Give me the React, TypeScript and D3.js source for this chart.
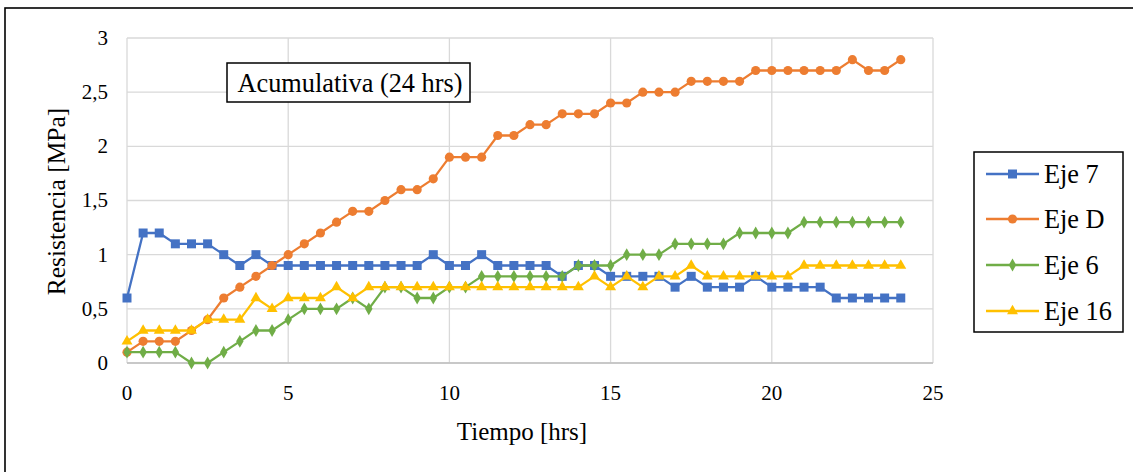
import React from "react";
import * as d3 from "d3";

const times: number[] = d3.range(0, 24.01, 0.5);

const eje7: number[] = [
  0.6, 1.2, 1.2, 1.1, 1.1, 1.1, 1.0, 0.9, 1.0, 0.9,
  0.9, 0.9, 0.9, 0.9, 0.9, 0.9, 0.9, 0.9, 0.9, 1.0,
  0.9, 0.9, 1.0, 0.9, 0.9, 0.9, 0.9, 0.8, 0.9, 0.9,
  0.8, 0.8, 0.8, 0.8, 0.7, 0.8, 0.7, 0.7, 0.7, 0.8,
  0.7, 0.7, 0.7, 0.7, 0.6, 0.6, 0.6, 0.6, 0.6,
];
const ejeD: number[] = [
  0.1, 0.2, 0.2, 0.2, 0.3, 0.4, 0.6, 0.7, 0.8, 0.9,
  1.0, 1.1, 1.2, 1.3, 1.4, 1.4, 1.5, 1.6, 1.6, 1.7,
  1.9, 1.9, 1.9, 2.1, 2.1, 2.2, 2.2, 2.3, 2.3, 2.3,
  2.4, 2.4, 2.5, 2.5, 2.5, 2.6, 2.6, 2.6, 2.6, 2.7,
  2.7, 2.7, 2.7, 2.7, 2.7, 2.8, 2.7, 2.7, 2.8,
];
const eje6: number[] = [
  0.1, 0.1, 0.1, 0.1, 0.0, 0.0, 0.1, 0.2, 0.3, 0.3,
  0.4, 0.5, 0.5, 0.5, 0.6, 0.5, 0.7, 0.7, 0.6, 0.6,
  0.7, 0.7, 0.8, 0.8, 0.8, 0.8, 0.8, 0.8, 0.9, 0.9,
  0.9, 1.0, 1.0, 1.0, 1.1, 1.1, 1.1, 1.1, 1.2, 1.2,
  1.2, 1.2, 1.3, 1.3, 1.3, 1.3, 1.3, 1.3, 1.3,
];
const eje16: number[] = [
  0.2, 0.3, 0.3, 0.3, 0.3, 0.4, 0.4, 0.4, 0.6, 0.5,
  0.6, 0.6, 0.6, 0.7, 0.6, 0.7, 0.7, 0.7, 0.7, 0.7,
  0.7, 0.7, 0.7, 0.7, 0.7, 0.7, 0.7, 0.7, 0.7, 0.8,
  0.7, 0.8, 0.7, 0.8, 0.8, 0.9, 0.8, 0.8, 0.8, 0.8,
  0.8, 0.8, 0.9, 0.9, 0.9, 0.9, 0.9, 0.9, 0.9,
];

const seriesNames: string[] = ["Eje 7", "Eje D", "Eje 6", "Eje 16"];
const seriesValues: number[][] = [eje7, ejeD, eje6, eje16];
const seriesColors: string[] = ["#4472C4", "#ED7D31", "#70AD47", "#FFC000"];
const seriesSymbols = [d3.symbolSquare, d3.symbolCircle, d3.symbolDiamond, d3.symbolTriangle];
const symbolSizes: number[] = [81, 66, 48, 52];

const xTicks: number[] = [0, 5, 10, 15, 20, 25];
const yTicks: number[] = [0, 0.5, 1, 1.5, 2, 2.5, 3];
const fmt = (v: number) => String(v).replace(".", ",");

const FONT = "Liberation Serif, Times New Roman, DejaVu Serif, serif";
const ts = { fontFamily: FONT };

export default function App() {
  const W = 1133;
  const H = 472;
  const left = 127;
  const right = 933;
  const top = 38;
  const bottom = 363;
  const x = d3.scaleLinear().domain([0, 25]).range([left, right]);
  const y = d3.scaleLinear().domain([0, 3]).range([bottom, top]);
  const line = d3
    .line<number>()
    .x((_, i) => x(times[i]))
    .y((d) => y(d));

  const legendY = [174, 219, 265, 311];

  return (
    <svg
      width={W}
      height={H}
      style={{ position: "absolute", left: 0, top: 0, background: "#fff", fontFamily: FONT }}
    >
      <rect x={0} y={0} width={W} height={H} fill="#fff" />
      {/* chart border */}
      <rect x={5} y={8} width={W + 20} height={H + 20} fill="none" stroke="#000" strokeWidth={1.6} />

      {/* gridlines */}
      {yTicks.map((t) => (
        <line key={"gy" + t} x1={left} x2={right} y1={y(t)} y2={y(t)} stroke="#D9D9D9" strokeWidth={1.3} />
      ))}
      {xTicks.map((t) => (
        <line key={"gx" + t} x1={x(t)} x2={x(t)} y1={top} y2={bottom} stroke="#D9D9D9" strokeWidth={1.3} />
      ))}
      <line x1={left} x2={right} y1={bottom} y2={bottom} stroke="#BFBFBF" strokeWidth={1.5} />

      {/* tick labels */}
      {yTicks.map((t) => (
        <text key={"ty" + t} x={108} y={y(t)} dy="0.33em" textAnchor="end" fontSize={21} fill="#000" style={ts}>
          {fmt(t)}
        </text>
      ))}
      {xTicks.map((t) => (
        <text key={"tx" + t} x={x(t)} y={393.5} dy="0.33em" textAnchor="middle" fontSize={21} fill="#000" style={ts}>
          {fmt(t)}
        </text>
      ))}

      {/* axis titles */}
      <text x={522} y={431.5} dy="0.35em" textAnchor="middle" fontSize={25} fill="#000" style={ts}>
        Tiempo [hrs]
      </text>
      <text
        transform={`translate(56.5, 201.5) rotate(-90)`}
        dy="0.35em"
        textAnchor="middle"
        fontSize={25.5}
        fill="#000"
        style={ts}
      >
        Resistencia [MPa]
      </text>

      {/* series */}
      {seriesValues.map((vals, si) => (
        <g key={"s" + si}>
          <path d={line(vals) || ""} fill="none" stroke={seriesColors[si]} strokeWidth={2.3} strokeLinejoin="round" />
          {vals.map((v, i) => (
            <path
              key={i}
              d={d3.symbol().type(seriesSymbols[si]).size(symbolSizes[si])() || ""}
              transform={`translate(${x(times[i])}, ${y(v)})`}
              fill={seriesColors[si]}
            />
          ))}
        </g>
      ))}

      {/* annotation box */}
      <rect x={227} y={63} width={243} height={39} fill="#fff" stroke="#000" strokeWidth={1.5} />
      <text x={350} y={82.5} dy="0.35em" textAnchor="middle" fontSize={26.3} fill="#000" style={ts}>
        Acumulativa (24 hrs)
      </text>

      {/* legend */}
      <rect x={974} y={152} width={149} height={180} fill="#fff" stroke="#000" strokeWidth={1.5} />
      {seriesNames.map((name, si) => (
        <g key={"l" + si}>
          <line x1={986} x2={1039} y1={legendY[si]} y2={legendY[si]} stroke={seriesColors[si]} strokeWidth={2.3} />
          <path
            d={d3.symbol().type(seriesSymbols[si]).size(symbolSizes[si])() || ""}
            transform={`translate(${1012.5}, ${legendY[si]})`}
            fill={seriesColors[si]}
          />
          <text x={1044} y={legendY[si]} dy="0.35em" fontSize={26.3} fill="#000" style={ts}>
            {name}
          </text>
        </g>
      ))}
    </svg>
  );
}
